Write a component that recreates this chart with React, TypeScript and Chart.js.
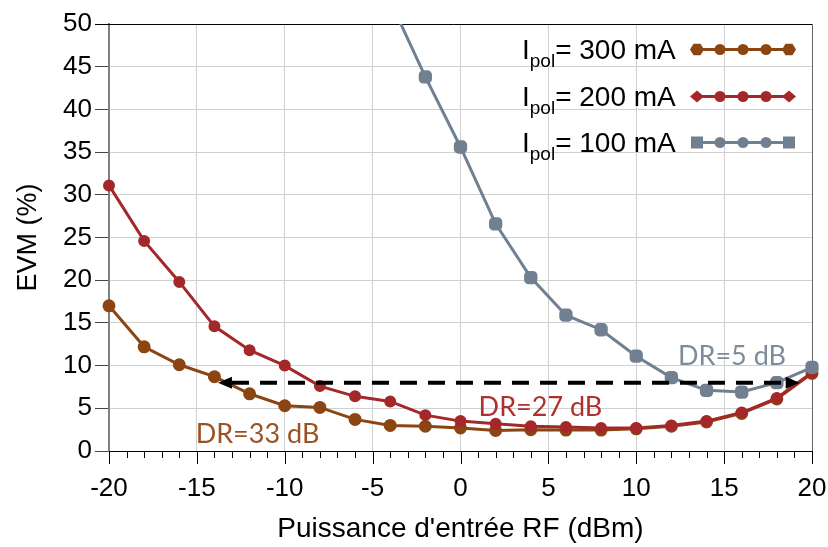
import React, { useEffect, useRef } from "react";
import { Chart, registerables } from "chart.js";

Chart.register(...registerables);

// ---------- data ----------
const xValues = [-20, -18, -16, -14, -12, -10, -8, -6, -4, -2, 0, 2, 4, 6, 8, 10, 12, 14, 16, 18, 20];
const evm300 = [17.0, 12.2, 10.1, 8.7, 6.7, 5.3, 5.1, 3.7, 3.0, 2.9, 2.7, 2.4, 2.5, 2.45, 2.45, 2.6, 2.9, 3.4, 4.4, 6.1, 9.1];
const evm200 = [31.1, 24.6, 19.8, 14.6, 11.8, 10.0, 7.6, 6.4, 5.8, 4.2, 3.5, 3.2, 2.9, 2.8, 2.7, 2.7, 3.0, 3.5, 4.5, 6.2, 9.2];
const evm100 = [null, null, null, null, null, null, null, null, 52.7, 43.8, 35.6, 26.6, 20.3, 15.9, 14.2, 11.1, 8.6, 7.1, 6.9, 8.0, 9.8];
const seriesLabels = ["300 mA", "200 mA", "100 mA"];
const xTickValues = [-20, -15, -10, -5, 0, 5, 10, 15, 20];
const yTickValues = [0, 5, 10, 15, 20, 25, 30, 35, 40, 45, 50];
const drLabels = [
  { text: "DR=33 dB", x: -11.55, y: 1.9, series: 0 },
  { text: "DR=27 dB", x: 4.55, y: 5.1, series: 1 },
  { text: "DR=5 dB", x: 15.45, y: 11.1, series: 2 },
];
const arrowLevel = 8;
const arrowFrom = -13.8;
const arrowTo = 19.3;

const COLORS = ["#8B4513", "#A4282A", "#708090"];
const TEXT_COLORS = ["#9A5223", "#B0302F", "#7C8C9C"];

function toPoints(vals: (number | null)[]) {
  return xValues.map((x, i) => ({ x, y: vals[i] }));
}

const overlay = {
  id: "overlay",
  beforeDatasetsDraw(chart: any) {
    const { ctx, chartArea } = chart;
    ctx.save();
    ctx.strokeStyle = "#000";
    ctx.lineWidth = 1;
    ctx.beginPath();
    ctx.moveTo(chartArea.left - 14, chartArea.top + 0.5);
    ctx.lineTo(chartArea.right, chartArea.top + 0.5);
    ctx.stroke();
    ctx.strokeStyle = "#666";
    ctx.beginPath();
    ctx.moveTo(chartArea.right + 0.5, chartArea.top);
    ctx.lineTo(chartArea.right + 0.5, chartArea.bottom);
    ctx.stroke();
    ctx.restore();
  },
  afterDatasetsDraw(chart: any) {
    const { ctx } = chart;
    const xs = chart.scales.x;
    const ys = chart.scales.y;
    ctx.save();
    const y = ys.getPixelForValue(arrowLevel);
    const x1 = xs.getPixelForValue(arrowFrom);
    const x2 = xs.getPixelForValue(arrowTo);
    const head = 14;
    ctx.strokeStyle = "#000";
    ctx.lineWidth = 4;
    ctx.setLineDash([17, 11]);
    ctx.beginPath();
    ctx.moveTo(x1 + head, y);
    ctx.lineTo(x2 - head, y);
    ctx.stroke();
    ctx.setLineDash([]);
    ctx.fillStyle = "#000";
    ctx.beginPath();
    ctx.moveTo(x1, y);
    ctx.lineTo(x1 + head, y - 6);
    ctx.lineTo(x1 + head, y + 6);
    ctx.closePath();
    ctx.fill();
    ctx.beginPath();
    ctx.moveTo(x2, y);
    ctx.lineTo(x2 - head, y - 6);
    ctx.lineTo(x2 - head, y + 6);
    ctx.closePath();
    ctx.fill();
    ctx.font = '27px Lato, "Open Sans", sans-serif';
    ctx.textAlign = "center";
    ctx.textBaseline = "middle";
    drLabels.forEach((d) => {
      ctx.fillStyle = TEXT_COLORS[d.series];
      ctx.fillText(d.text, xs.getPixelForValue(d.x), ys.getPixelForValue(d.y));
    });
    ctx.restore();
  },
  afterDraw(chart: any) {
    const { ctx, chartArea } = chart;
    const xs = chart.scales.x;
    ctx.save();
    ctx.strokeStyle = "#000";
    ctx.lineWidth = 1;
    for (let v = xs.min; v <= xs.max; v += 1) {
      const px = Math.round(xs.getPixelForValue(v)) + 0.5;
      const len = v % 5 === 0 ? 13 : 7;
      ctx.beginPath();
      ctx.moveTo(px, chartArea.bottom);
      ctx.lineTo(px, chartArea.bottom + len);
      ctx.stroke();
    }
    const textX = chartArea.right - 290;
    const lineX1 = chartArea.right - 115;
    const lineX2 = chartArea.right - 23;
    const baselines = [chartArea.top + 35, chartArea.top + 82, chartArea.top + 128];
    seriesLabels.forEach((lab, i) => {
      const base = baselines[i];
      ctx.fillStyle = "#000";
      ctx.textAlign = "left";
      ctx.textBaseline = "alphabetic";
      ctx.font = '28px "Liberation Sans", Arial, sans-serif';
      ctx.fillText("I", textX, base);
      let cx = textX + ctx.measureText("I").width;
      ctx.font = '19px "Liberation Sans", Arial, sans-serif';
      ctx.fillText("pol", cx, base + 8);
      cx += ctx.measureText("pol").width;
      ctx.font = '28px "Liberation Sans", Arial, sans-serif';
      ctx.fillText("= " + lab, cx, base);
      const my = base - 9.5;
      ctx.strokeStyle = COLORS[i];
      ctx.fillStyle = COLORS[i];
      ctx.lineWidth = 3;
      ctx.beginPath();
      ctx.moveTo(lineX1, my);
      ctx.lineTo(lineX2, my);
      ctx.stroke();
      for (let k = 0; k < 5; k++) {
        const mx = lineX1 + ((lineX2 - lineX1) * k) / 4;
        ctx.beginPath();
        if (k === 0 || k === 4) {
          if (i === 0) {
            for (let a = 0; a < 6; a++) {
              const ang = (Math.PI / 3) * a;
              const px = mx + 7 * Math.cos(ang);
              const py = my + 6.5 * Math.sin(ang);
              if (a === 0) ctx.moveTo(px, py);
              else ctx.lineTo(px, py);
            }
            ctx.closePath();
          } else if (i === 1) {
            ctx.moveTo(mx - 7, my);
            ctx.lineTo(mx, my - 6);
            ctx.lineTo(mx + 7, my);
            ctx.lineTo(mx, my + 6);
            ctx.closePath();
          } else {
            ctx.rect(mx - 6, my - 6, 12, 12);
          }
        } else {
          ctx.arc(mx, my, 5.5, 0, Math.PI * 2);
        }
        ctx.fill();
      }
    });
    ctx.restore();
  },
};

export default function App() {
  const ref = useRef<HTMLCanvasElement | null>(null);
  useEffect(() => {
    if (!ref.current) return;
    const tickFont = { family: '"Liberation Sans", Arial, sans-serif', size: 26 };
    const clip = { left: 12, right: 12, top: 0, bottom: 12 };
    const chart = new Chart(ref.current, {
      type: "line",
      data: {
        datasets: [
          {
            label: seriesLabels[2],
            data: toPoints(evm100),
            borderColor: COLORS[2],
            backgroundColor: COLORS[2],
            borderWidth: 3,
            pointStyle: "rectRounded",
            pointRadius: 6,
            order: 0,
            clip,
          },
          {
            label: seriesLabels[1],
            data: toPoints(evm200),
            borderColor: COLORS[1],
            backgroundColor: COLORS[1],
            borderWidth: 3,
            pointStyle: "circle",
            pointRadius: 4.5,
            order: 1,
            clip,
          },
          {
            label: seriesLabels[0],
            data: toPoints(evm300),
            borderColor: COLORS[0],
            backgroundColor: COLORS[0],
            borderWidth: 3,
            pointStyle: "circle",
            pointRadius: 5,
            order: 2,
            clip,
          },
        ],
      },
      options: {
        responsive: false,
        animation: false,
        layout: { padding: { top: 24, right: 16, left: 0, bottom: 0 } },
        plugins: { legend: { display: false }, tooltip: { enabled: false } },
        scales: {
          x: {
            type: "linear",
            min: -20,
            max: 20,
            afterBuildTicks: (s: any) => {
              s.ticks = xTickValues.map((v) => ({ value: v }));
            },
            afterFit: (s: any) => {
              s.height = 96;
              s.paddingLeft = 0;
              s.paddingRight = 0;
            },
            ticks: { font: tickFont, color: "#000", padding: 22, maxRotation: 0, autoSkip: false },
            grid: { color: "#d0d0d0", lineWidth: 1, drawTicks: false },
            border: { display: true, color: "#000", width: 1 },
            title: {
              display: true,
              text: "Puissance d'entrée RF (dBm)",
              color: "#000",
              font: { family: '"Liberation Sans", Arial, sans-serif', size: 28 },
              padding: { top: 0, bottom: 1 },
            },
          },
          y: {
            type: "linear",
            min: 0,
            max: 50,
            afterBuildTicks: (s: any) => {
              s.ticks = yTickValues.map((v) => ({ value: v }));
            },
            afterFit: (s: any) => {
              s.width = 109;
              s.paddingTop = 0;
              s.paddingBottom = 0;
            },
            ticks: { font: tickFont, color: "#000", padding: 3 },
            grid: { color: "#d0d0d0", lineWidth: 1, tickLength: 14, tickColor: "#444" },
            border: { display: true, color: "#808080", width: 2 },
            title: {
              display: true,
              text: "EVM (%)",
              color: "#000",
              font: { family: '"Liberation Sans", Arial, sans-serif', size: 27 },
              padding: { top: 12, bottom: 0 },
            },
          },
        },
      },
      plugins: [overlay],
    } as any);
    return () => chart.destroy();
  }, []);
  return (
    <div style={{ position: "absolute", left: 0, top: 0, width: 828, height: 547, background: "#fff" }}>
      <canvas ref={ref} width={828} height={547} />
    </div>
  );
}
